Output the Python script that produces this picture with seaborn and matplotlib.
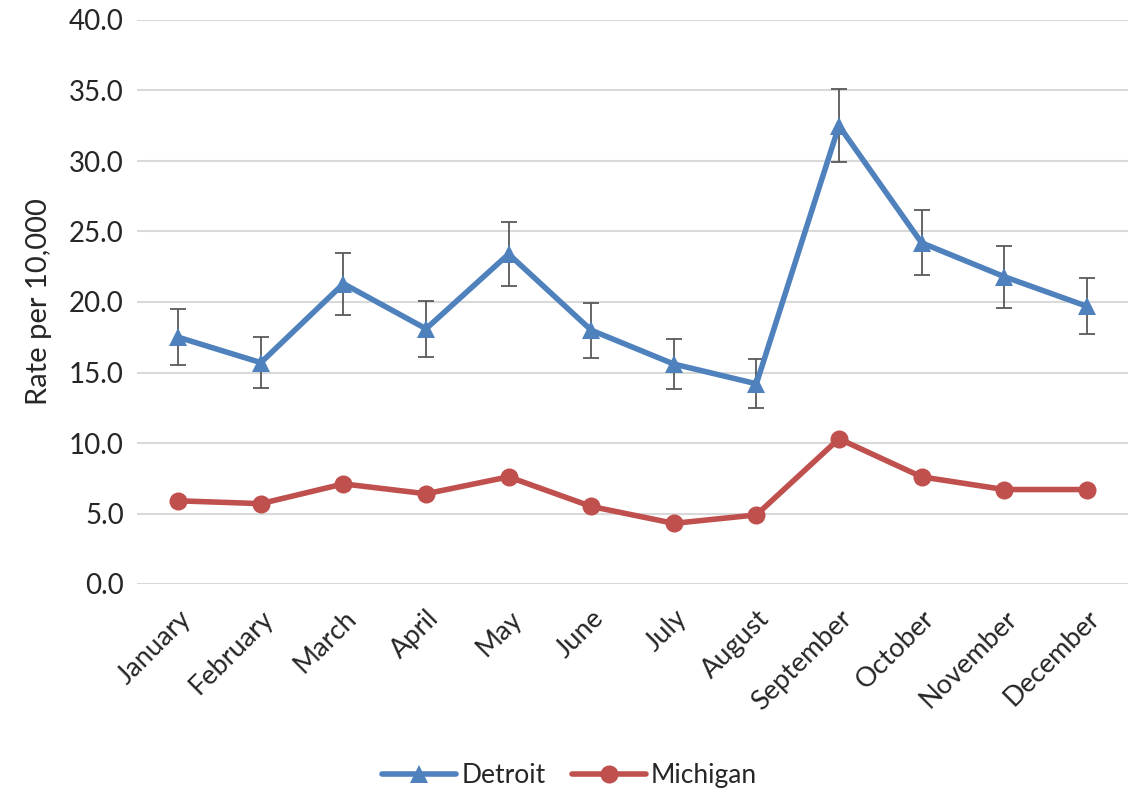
import pandas as pd
import seaborn as sns
import matplotlib.pyplot as plt

months = ['January', 'February', 'March', 'April', 'May', 'June',
          'July', 'August', 'September', 'October', 'November', 'December']
detroit = [17.5, 15.7, 21.3, 18.1, 23.4, 18.0, 15.6, 14.2, 32.5, 24.2, 21.8, 19.7]
detroit_err = [2.0, 1.8, 2.2, 2.0, 2.3, 1.95, 1.8, 1.75, 2.6, 2.3, 2.2, 2.0]
michigan = [5.9, 5.7, 7.1, 6.4, 7.6, 5.5, 4.3, 4.9, 10.3, 7.6, 6.7, 6.7]

sns.set_style('white')
plt.rcParams['font.family'] = ['Lato', 'DejaVu Sans']

data = pd.DataFrame({'Month': list(range(12)) * 2,
                     'Rate': detroit + michigan,
                     'Area': ['Detroit'] * 12 + ['Michigan'] * 12})

fig = plt.figure(figsize=(11.28, 7.93), dpi=100)
ax = fig.add_axes([137 / 1128, 1 - 584 / 793, (1128 - 137) / 1128, (584 - 20) / 793])

for y in range(0, 45, 5):
    ax.axhline(y, color='#d9d9d9', lw=1.5, zorder=0)

ax.errorbar(range(12), detroit, yerr=detroit_err, fmt='none', ecolor='#595959',
            elinewidth=1.3, capsize=6, capthick=1.3, zorder=2)

sns.lineplot(data=data, x='Month', y='Rate', hue='Area', style='Area',
             markers={'Detroit': '^', 'Michigan': 'o'}, dashes=False,
             palette={'Detroit': '#4f81bd', 'Michigan': '#c0504d'},
             linewidth=4, markersize=13, markeredgewidth=0, ax=ax, zorder=3)

ax.set_xlim(-0.5, 11.5)
ax.set_ylim(0, 40)
ax.set_yticks(range(0, 45, 5))
ax.set_yticklabels([f'{v:.1f}' for v in range(0, 45, 5)], fontsize=20)
ax.set_xticks(range(12))
ax.set_xticklabels(months, rotation=45, ha='right', rotation_mode='anchor', fontsize=19.5)
ax.tick_params(axis='x', pad=12)
ax.tick_params(axis='y', pad=6)
ax.set_xlabel('')
ax.set_ylabel('Rate per 10,000', fontsize=21, labelpad=12)
sns.despine(ax=ax, left=True, bottom=True)

handles, labels = ax.get_legend_handles_labels()
ax.get_legend().remove()
fig.legend(handles, labels, loc='center', bbox_to_anchor=(0.505, 0.022), ncol=2,
           frameon=False, fontsize=19, handlelength=2.8, columnspacing=1.0,
           handletextpad=0.2, borderpad=0.1)

fig.savefig('out.png', dpi=100)
